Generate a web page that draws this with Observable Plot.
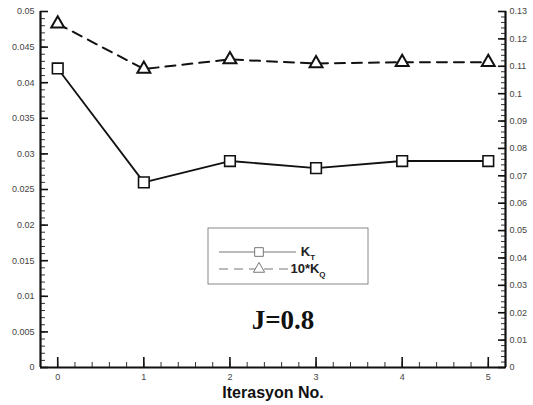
<!DOCTYPE html>
<html>
<head>
<meta charset="utf-8">
<script src="https://cdn.jsdelivr.net/npm/d3@7"></script>
<script src="https://cdn.jsdelivr.net/npm/@observablehq/plot@0.6"></script>
<style>
  html, body { margin: 0; padding: 0; background: #fff; }
  #chart { position: relative; width: 533px; height: 405px; }
  #chart svg { display: block; font-family: "Liberation Sans", Arial, sans-serif; }
  [aria-label="x-axis label"] text { font-size: 16px; font-weight: bold; fill: #111; }
</style>
</head>
<body>
<div id="chart"></div>
<script>
// Iteration number and the two convergence series
const iterations = [0, 1, 2, 3, 4, 5];
const kt = [0.042, 0.026, 0.029, 0.028, 0.029, 0.029];          // left axis
const kq10 = [0.1255, 0.109, 0.1125, 0.111, 0.1115, 0.1115];    // 10*KQ, right axis

// Axis extents and tick values
const xDomain = [-0.2, 5.2];
const leftDomain = [0, 0.05];
const rightDomain = [0, 0.13];
const leftMajor = d3.range(0, 0.0501, 0.005);
const leftMinor = d3.range(0, 0.0501, 0.001);
const rightMajor = d3.range(0, 0.1301, 0.01);
const rightMinor = d3.range(0, 0.1301, 0.002);
const xMajor = [0, 1, 2, 3, 4, 5];
const xMinor = d3.range(-0.2, 5.21, 0.2);

// The right-hand series shares the y scale through a fixed ratio
const ratio = leftDomain[1] / rightDomain[1];
const toLeft = v => v * ratio;
const fmt = v => String(+v.toFixed(4));

const rows = iterations.map((it, i) => ({it, kt: kt[i], kq: toLeft(kq10[i])}));

const tickText = {fontSize: 9, fill: "#444"};
const minor = {tickSize: -5, tickFormat: () => "", stroke: "#333", strokeWidth: 1, label: null};

const chart = Plot.plot({
  width: 533,
  height: 405,
  marginLeft: 40,
  marginRight: 28,
  marginTop: 11,
  marginBottom: 38,
  x: {domain: xDomain},
  y: {domain: leftDomain},
  style: {background: "#fff", color: "#111"},
  marks: [
    // x axis
    Plot.axisX(xMinor, {anchor: "bottom", ...minor}),
    Plot.axisX(xMajor, {anchor: "bottom", tickSize: -10, tickPadding: 16, strokeWidth: 1.6, tickFormat: fmt, ...tickText,
      label: "Iterasyon No.", labelAnchor: "center", labelArrow: "none", labelOffset: 30}),
    // left axis
    Plot.axisY(leftMinor, {anchor: "left", ...minor}),
    Plot.axisY(leftMajor, {anchor: "left", tickSize: -8, tickPadding: 14, strokeWidth: 1.6, tickFormat: fmt, ...tickText, label: null}),
    // right axis (10*KQ)
    Plot.axisY(rightMinor.map(toLeft), {anchor: "right", ...minor}),
    Plot.axisY(rightMajor.map(toLeft), {anchor: "right", tickSize: -8, tickPadding: 12, strokeWidth: 1.6,
      tickFormat: d => fmt(d / ratio), ...tickText, label: null}),
    // axis lines
    Plot.ruleX(xDomain, {stroke: "#111", strokeWidth: 2.2}),
    Plot.ruleY([leftDomain[0]], {stroke: "#111", strokeWidth: 2.2}),
    // series
    Plot.line(rows, {x: "it", y: "kq", stroke: "#111", strokeWidth: 2, strokeDasharray: "10,7"}),
    Plot.line(rows, {x: "it", y: "kt", stroke: "#111", strokeWidth: 1.8}),
    Plot.dot(rows, {x: "it", y: "kq", symbol: "triangle", r: 4.8, stroke: "#111", strokeWidth: 2, fill: "#fff"}),
    Plot.dot(rows, {x: "it", y: "kt", symbol: "square", r: 6, stroke: "#111", strokeWidth: 1.6, fill: "#fff"})
  ]
});
document.getElementById("chart").append(chart);

// Legend box and case annotation
const svg = d3.select(chart);
const lg = svg.append("g").attr("transform", "translate(208,228)");
lg.append("rect").attr("width", 160).attr("height", 56)
  .attr("fill", "#fff").attr("stroke", "#888").attr("stroke-width", 1);
const entries = [
  {name: "K", sub: "T", dash: null, symbol: d3.symbolSquare, size: 75, y: 24},
  {name: "10*K", sub: "Q", dash: "9,6", symbol: d3.symbolTriangle, size: 55, y: 41}
];
for (const e of entries) {
  lg.append("line").attr("x1", 11).attr("x2", 88).attr("y1", e.y).attr("y2", e.y)
    .attr("stroke", "#777").attr("stroke-width", 1).attr("stroke-dasharray", e.dash);
  lg.append("path").attr("d", d3.symbol(e.symbol, e.size)()).attr("transform", `translate(51,${e.y})`)
    .attr("fill", "#fff").attr("stroke", "#777").attr("stroke-width", 1);
  const t = lg.append("text").attr("x", 100).attr("y", e.y + 4)
    .attr("font-size", 13).attr("font-weight", "bold").attr("fill", "#222");
  t.append("tspan").text(e.name);
  t.append("tspan").attr("font-size", 8).attr("dy", 4).text(e.sub);
}
svg.append("text").attr("x", 283).attr("y", 329).attr("text-anchor", "middle")
  .attr("font-family", "'Liberation Serif', 'Times New Roman', serif").attr("font-weight", "bold")
  .attr("font-size", 27).attr("fill", "#111").text("J=0.8");
</script>
</body>
</html>
